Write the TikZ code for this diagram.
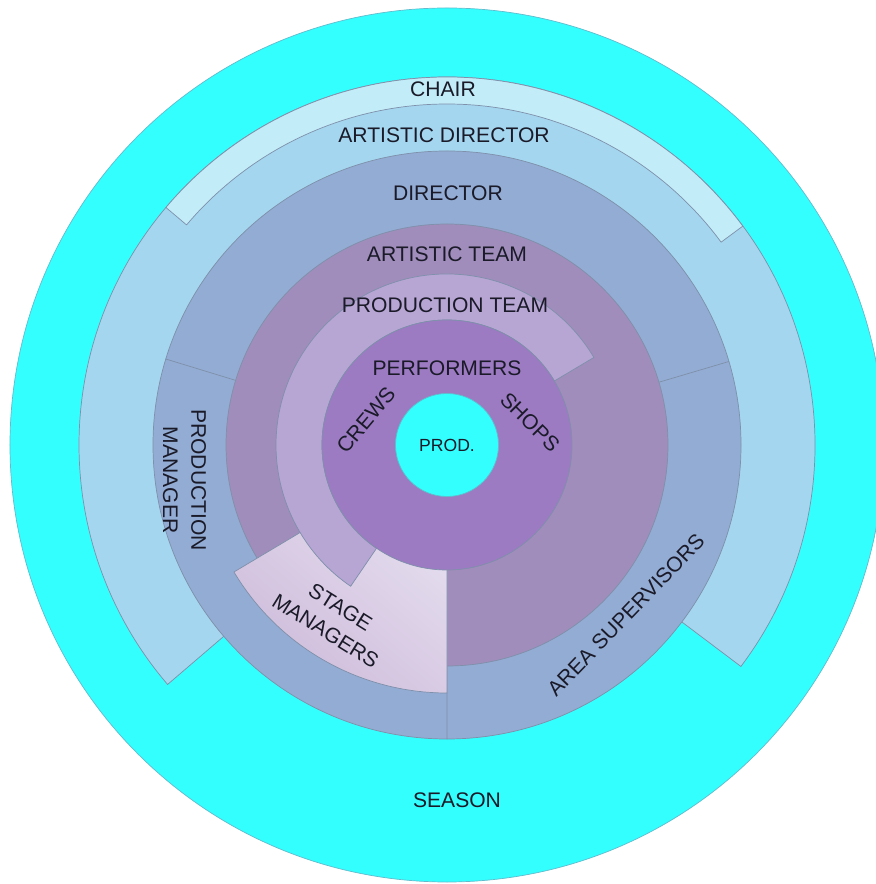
\documentclass[tikz,border=0pt]{standalone}
\usepackage{fontspec}
\setmainfont{Liberation Sans}
\definecolor{seasoncyan}{HTML}{33FFFF}
\definecolor{chairblue}{HTML}{C2ECF8}
\definecolor{adblue}{HTML}{A4D6F0}
\definecolor{dirblue}{HTML}{93ACD3}
\definecolor{atmauve}{HTML}{A08DBB}
\definecolor{ptlilac}{HTML}{B7A5D4}
\definecolor{perfpurple}{HTML}{9C7BC3}
\definecolor{smtop}{HTML}{E8E3F2}
\definecolor{smbottom}{HTML}{CFBCDB}
\definecolor{edgegray}{HTML}{7E90AA}
\definecolor{ink}{HTML}{1A1A28}
\begin{document}
\begin{tikzpicture}[line join=round,line cap=round,font=\fontsize{12}{16}\selectfont,text=ink]
\useasboundingbox (-8.94,-8.78) rectangle (8.56,8.9);
\path
(0,0) coordinate (O)
;
% outer rings
\fill[seasoncyan,draw=edgegray!60!seasoncyan,line width=.4pt]
(O) circle (8.74)
;
\fill[adblue,draw=edgegray,line width=.4pt]
(O)--(-37:7.36) arc[start angle=-37,end angle=220.6,radius=7.36]--cycle
;
\fill[chairblue,draw=edgegray,line width=.4pt]
(36.5:6.82)--(36.5:7.36) arc[start angle=36.5,end angle=139.8,radius=7.36]
--(139.8:6.82) arc[start angle=139.8,end angle=36.5,radius=6.82]--cycle
;
\fill[dirblue,draw=edgegray,line width=.4pt]
(O) circle (5.88)
;
\draw[edgegray,line width=.4pt]
(16.5:4.42)--(16.5:5.88)
(163:4.42)--(163:5.88)
(270:4.42)--(270:5.88)
;
% inner rings
\fill[atmauve,draw=edgegray,line width=.4pt]
(O) circle (4.42)
;
\shade[top color=smtop,bottom color=smbottom,shading angle=-40,draw=edgegray,line width=.4pt]
(O)--(210.8:4.96) arc[start angle=210.8,end angle=270,radius=4.96]--cycle
;
\fill[ptlilac,draw=edgegray,line width=.4pt]
(30.8:2.5)--(30.8:3.42) arc[start angle=30.8,end angle=235.7,radius=3.42]
--(235.7:2.5) arc[start angle=235.7,end angle=30.8,radius=2.5]--cycle
;
\fill[perfpurple,draw=edgegray,line width=.4pt]
(O) circle (2.5)
;
\fill[seasoncyan,draw=edgegray!60!seasoncyan,line width=.4pt]
(O) circle (1.03)
;
% labels
\node (chair) at (-0.08,7.12) {CHAIR};
\node (artdir) at (-0.06,6.2) {ARTISTIC DIRECTOR};
\node (director) at (0.02,5.04) {DIRECTOR};
\node (artteam) at (0,3.82) {ARTISTIC TEAM};
\node (prodteam) at (-0.04,2.8) {PRODUCTION TEAM};
\node (performers) at (0,1.54) {PERFORMERS};
\node[rotate=50] (crews) at (-1.62,0.5) {CREWS};
\node[rotate=-45] (shops) at (1.66,0.46) {SHOPS};
\node[font=\fontsize{10}{12}\selectfont] (prod) at (O) {PROD.};
\node[rotate=-90,align=center] (prodmgr) at (-5.25,-0.7) {PRODUCTION\\MANAGER};
\node[rotate=-32,align=center] (stagemgr) at (-2.28,-3.48) {STAGE\\MANAGERS};
\node[rotate=46] (areasup) at (3.58,-3.4) {AREA SUPERVISORS};
\node (season) at (0.2,-7.1) {SEASON};
\end{tikzpicture}
\end{document}
